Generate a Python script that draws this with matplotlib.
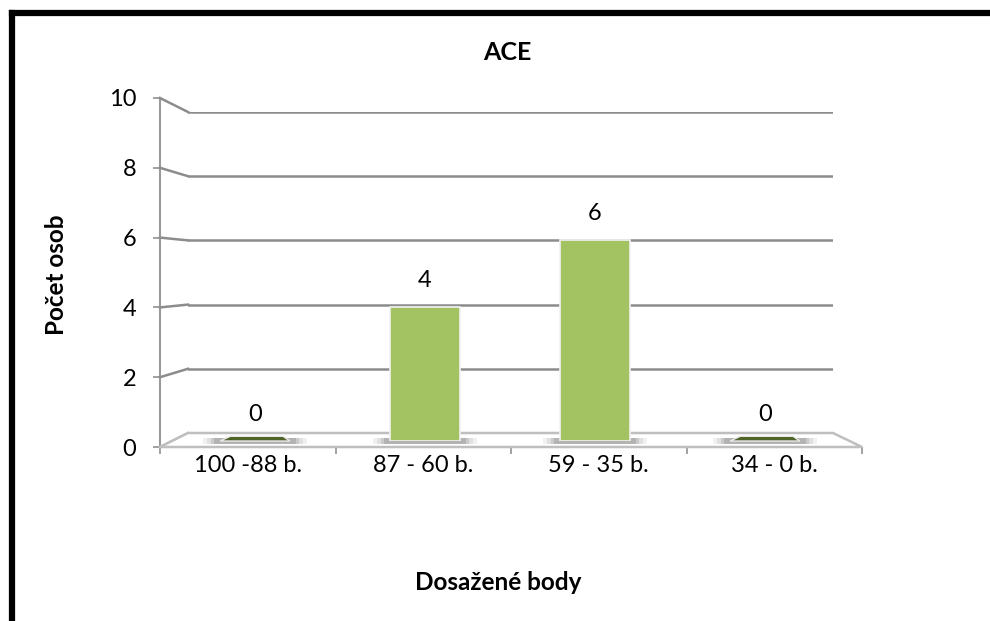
import numpy as np
import matplotlib.pyplot as plt
from matplotlib.patches import Polygon, Rectangle
from matplotlib.lines import Line2D

plt.rcParams['font.family'] = ['Lato', 'DejaVu Sans']

categories = ["100 -88 b.", "87 - 60 b.", "59 - 35 b.", "34 - 0 b."]
counts = [0, 4, 6, 0]
y_ticks = [0, 2, 4, 6, 8, 10]
title = "ACE"
x_title = "Dosažené body"
y_title = "Počet osob"

W, H = 990, 621
fig = plt.figure(figsize=(W / 100, H / 100), dpi=100)


def box(x0, x1, y_top, y_bot):
    # pixel box -> figure fraction rect
    return [x0 / W, 1 - y_bot / H, (x1 - x0) / W, (y_bot - y_top) / H]


grid_c = '#8c8c8c'
floor_c = '#bfbfbf'

# back wall (gridlines)
axb = fig.add_axes(box(188, 833, 112, 433))
axb.set_xlim(0, len(categories))
axb.set_ylim(0, 10)
axb.axis('off')
for v in y_ticks[1:]:
    axb.axhline(v, color=grid_c, lw=1.8, zorder=1)

# front plane: value axis and category ticks
axf = fig.add_axes(box(160, 862, 98, 447))
axf.set_xlim(0, len(categories))
axf.set_ylim(0, 10)
axf.patch.set_alpha(0)
for s in ['top', 'right', 'bottom']:
    axf.spines[s].set_visible(False)
axf.spines['left'].set_color('#9a9a9a')
axf.spines['left'].set_linewidth(1.5)
axf.set_yticks(y_ticks)
axf.tick_params(axis='y', colors='#9a9a9a', length=5, width=1.3, pad=12,
                labelsize=17, labelcolor='black')
axf.set_xticks(np.arange(len(categories) + 1))
axf.set_xticklabels([])
axf.set_xticks(np.arange(len(categories)) + 0.5, minor=True)
axf.set_xticklabels(categories, minor=True)
axf.tick_params(axis='x', which='major', colors='#9a9a9a', length=5, width=1.3)
axf.tick_params(axis='x', which='minor', length=0, pad=6, labelsize=17)


def fig_pt(ax, x, y):
    return fig.transFigure.inverted().transform(ax.transData.transform((x, y)))


# diagonal joins from front ticks to back gridlines
for v in y_ticks:
    p0 = fig_pt(axf, 0, v)
    p1 = fig_pt(axb, 0, v)
    c = floor_c if v == 0 else grid_c
    fig.add_artist(Line2D([p0[0], p1[0]], [p0[1], p1[1]], transform=fig.transFigure,
                          color=c, lw=1.8, zorder=1))

# floor
n = len(categories)
corners = [fig_pt(axf, 0, 0), fig_pt(axf, n, 0), fig_pt(axb, n, 0), fig_pt(axb, 0, 0)]
fig.add_artist(Polygon(corners, closed=True, transform=fig.transFigure,
                       facecolor='white', edgecolor=floor_c, lw=1.8, zorder=2))

# bars (drawn above the floor)
axm = fig.add_axes(box(170, 850, 106, 441))
axm.set_zorder(5)
axm.set_xlim(-0.5, n - 0.5)
axm.set_ylim(0, 10)
axm.axis('off')
x = np.arange(n)
bw = 0.41
for xi, v in zip(x, counts):
    # soft shadow at the base
    for k, a in enumerate([0.10, 0.15, 0.22, 0.30]):
        ext = 0.10 - k * 0.022
        axm.add_patch(Rectangle((xi - bw / 2 - ext, -0.1), bw + 2 * ext, 0.2,
                                facecolor='#7f7f7f', alpha=a, lw=0, zorder=3,
                                clip_on=False))
axm.bar(x, counts, width=bw, color='#a3c262', edgecolor='#f2f2f2', lw=1.2, zorder=4)
for xi, v in zip(x, counts):
    if v == 0:
        slab = [(xi - bw / 2, v), (xi + bw / 2, v),
                (xi + bw / 2 - 0.04, v + 0.14), (xi - bw / 2 + 0.06, v + 0.14)]
        axm.add_patch(Polygon(slab, closed=True, facecolor='#4f6228',
                              edgecolor='#e8e8e8', lw=1.0, zorder=5, clip_on=False))
    axm.annotate(str(v), (xi, v), xytext=(0, 19), textcoords='offset points',
                 ha='center', va='center', fontsize=17)

# titles
fig.text(507 / W, 1 - 53 / H, title, ha='center', va='center', fontsize=18, fontweight='bold')
fig.text(498 / W, 1 - 582 / H, x_title, ha='center', va='center', fontsize=17.5, fontweight='bold')
fig.text(57 / W, 1 - 275 / H, y_title, ha='center', va='center', fontsize=17.5,
         fontweight='bold', rotation=90)

# black frame along the top and left edge
fig.add_artist(Line2D([12 / W, 12 / W], [-0.1, 1 - 13 / H], transform=fig.transFigure,
                      color='black', lw=4.5, solid_capstyle='projecting'))
fig.add_artist(Line2D([12 / W, 1.1], [1 - 13 / H, 1 - 13 / H], transform=fig.transFigure,
                      color='black', lw=4.5, solid_capstyle='projecting'))

fig.savefig('out.png', dpi=100)
